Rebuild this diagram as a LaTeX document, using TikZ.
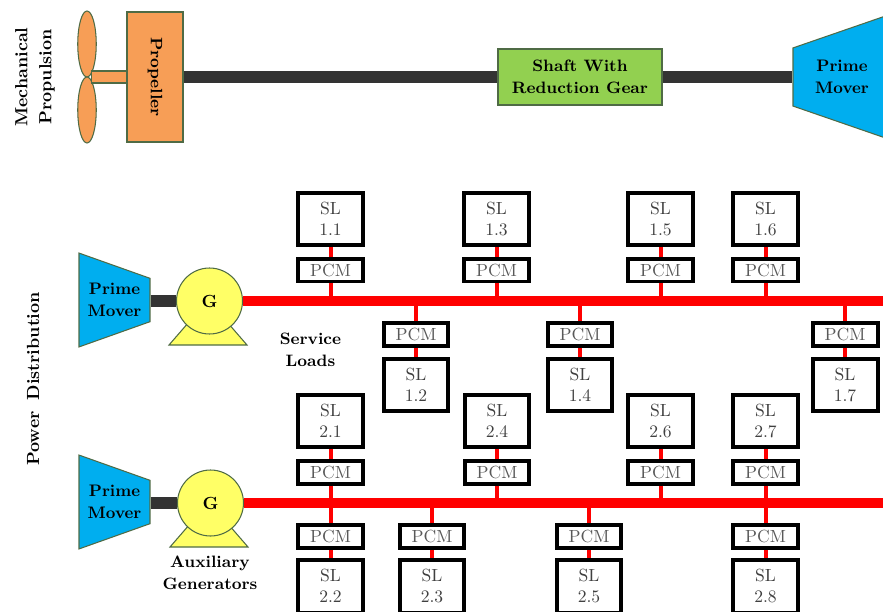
\documentclass[tikz,border=0pt]{standalone}
\usepackage{amsmath}
\usepackage{tikz}
\usetikzlibrary{shapes.geometric, positioning}
\definecolor{Borde}{RGB}{79, 107, 69}
\definecolor{Naranja}{RGB}{247, 158, 86}
\definecolor{Azul}{RGB}{0, 174, 239}
\definecolor{Verde}{RGB}{146, 208, 80}
\definecolor{Amarillo}{RGB}{255, 255, 102}
\definecolor{Eje}{RGB}{51, 51, 51}

\begin{document}
\begin{tikzpicture}[
        x=0.02cm, y=-0.02cm,
        sl/.style={rectangle, draw=black, fill=white, line width=0.08cm, minimum width=1.3cm, minimum height=1.06cm, inner sep=0pt, align=center, text=black!75},
        pcm/.style={rectangle, draw=black, fill=white, line width=0.08cm, minimum width=1.3cm, minimum height=0.46cm, inner sep=0pt, align=center, text=black!65},
        mover/.style={trapezium, draw=Borde, fill=Azul, line width=0.6pt, trapezium stretches=true, trapezium left angle=70, trapezium right angle=70, inner sep=0pt, align=center, font=\fontsize{9.5}{12.5}\selectfont\bfseries},
        gen/.style={circle, draw=Borde, fill=Amarillo, line width=0.6pt, minimum size=1.32cm, inner sep=0pt, font=\bfseries},
        base/.style={draw=Borde, fill=Amarillo, line width=0.6pt},
        prop/.style={draw=Borde, fill=Naranja, line width=0.6pt},
        label/.style={align=center, font=\fontsize{9.4}{12.5}\selectfont\bfseries},
        side/.style={align=center, font=\fontsize{10}{13.6}\selectfont\bfseries},
        shaft/.style={draw=Eje, line width=0.24cm},
        bus/.style={draw=red, line width=0.2cm},
        feed/.style={draw=red, line width=0.08cm}
    ]%
        \useasboundingbox (0,0) rectangle (883,612);
        \clip (0,0) rectangle (883,612);
        % ================= MECHANICAL PROPULSION =================
        \node[side, rotate=90] (mech) at (35, 77) {Mechanical\\Propulsion};
        \node[prop, ellipse, minimum width=0.37cm, minimum height=1.32cm, inner sep=0pt] (blade1) at (87, 44) {};
        \node[prop, ellipse, minimum width=0.37cm, minimum height=1.32cm, inner sep=0pt] (blade2) at (87, 110) {};
        \node[prop, rectangle, minimum width=0.7cm, minimum height=0.24cm, inner sep=0pt] (stem) at (109, 77) {};
        \node[prop, rectangle, minimum width=1.12cm, minimum height=2.6cm, inner sep=0pt, font=\fontsize{9.4}{12.5}\selectfont\bfseries] (propeller) at (155, 77) {\rotatebox{-90}{Propeller}};
        \node[prop, fill=Verde, rectangle, minimum width=3.28cm, minimum height=1.12cm, inner sep=0pt, align=center, font=\fontsize{9.4}{12.5}\selectfont\bfseries] (gear) at (580, 77) {Shaft With\\Reduction Gear};
        \node[mover, shape border rotate=90, minimum width=2.52cm, minimum height=1.96cm] (mover0) at (842, 77) {Prime\\Mover};
        \draw[shaft] (propeller.east) -- (gear.west);
        \draw[shaft] (gear.east) -- (mover0.top side);
        % ================= POWER DISTRIBUTION =================
        \node[side, rotate=90] (power) at (33, 379) {Power\hspace{0.25em} Distribution};
        \node[label] (service) at (310.5, 350) {Service\\Loads};
        \node[label] (aux) at (210, 572.5) {Auxiliary\\Generators};
        % grupo 1
        \node[mover, shape border rotate=270, minimum width=1.88cm, minimum height=1.42cm] (mover1) at (114.5, 300) {Prime\\Mover};
        \draw[base] (169,345) -- (208,300) -- (247,345) -- cycle;
        \node[gen] (gen1) at (209.5, 301) {G};
        \draw[shaft] (mover1.top side |- gen1) -- (gen1);
        \coordinate (end1) at (883, 301);
        \draw[bus] (gen1.east) -- (end1);
        % grupo 2
        \node[mover, shape border rotate=270, minimum width=1.88cm, minimum height=1.42cm] (mover2) at (114.5, 502) {Prime\\Mover};
        \draw[base] (170,547) -- (209,502) -- (248,547) -- cycle;
        \node[gen] (gen2) at (210.5, 503) {G};
        \draw[shaft] (mover2.top side |- gen2) -- (gen2);
        \coordinate (end2) at (883, 503);
        \draw[bus] (gen2.east) -- (end2);
        % ================= SERVICE LOADS, BUS 1 =================
        \node[sl] (sl11) at (330.5, 219) {SL\\1.1};
        \node[pcm] (pcm11) at (330.5, 270) {PCM};
        \node[sl] (sl13) at (496.5, 219) {SL\\1.3};
        \node[pcm] (pcm13) at (496.5, 270) {PCM};
        \node[sl] (sl15) at (660.5, 219) {SL\\1.5};
        \node[pcm] (pcm15) at (660.5, 270) {PCM};
        \node[sl] (sl16) at (765.5, 219) {SL\\1.6};
        \node[pcm] (pcm16) at (765.5, 270) {PCM};
        \node[pcm] (pcm12) at (416, 334) {PCM};
        \node[sl] (sl12) at (416, 385) {SL\\1.2};
        \node[pcm] (pcm14) at (580, 334) {PCM};
        \node[sl] (sl14) at (580, 385) {SL\\1.4};
        \node[pcm] (pcm17) at (845, 334) {PCM};
        \node[sl] (sl17) at (845, 385) {SL\\1.7};
        % ================= SERVICE LOADS, BUS 2 =================
        \node[sl] (sl21) at (330.5, 421) {SL\\2.1};
        \node[pcm] (pcm21) at (330.5, 472) {PCM};
        \node[sl] (sl24) at (497, 421) {SL\\2.4};
        \node[pcm] (pcm24) at (497, 472) {PCM};
        \node[sl] (sl26) at (660.5, 421) {SL\\2.6};
        \node[pcm] (pcm26) at (660.5, 472) {PCM};
        \node[sl] (sl27) at (765.5, 421) {SL\\2.7};
        \node[pcm] (pcm27) at (765.5, 472) {PCM};
        \node[pcm] (pcm22) at (330.5, 536.5) {PCM};
        \node[sl] (sl22) at (330.5, 586) {SL\\2.2};
        \node[pcm] (pcm23) at (432, 536.5) {PCM};
        \node[sl] (sl23) at (432, 586) {SL\\2.3};
        \node[pcm] (pcm25) at (589, 536.5) {PCM};
        \node[sl] (sl25) at (589, 586) {SL\\2.5};
        \node[pcm] (pcm28) at (765.5, 536.5) {PCM};
        \node[sl] (sl28) at (765.5, 586) {SL\\2.8};
        % ================= FEEDERS =================
        \draw[feed] (sl11) -- (pcm11);
        \draw[feed] (pcm11) -- (pcm11 |- end1);
        \draw[feed] (sl13) -- (pcm13);
        \draw[feed] (pcm13) -- (pcm13 |- end1);
        \draw[feed] (sl15) -- (pcm15);
        \draw[feed] (pcm15) -- (pcm15 |- end1);
        \draw[feed] (sl16) -- (pcm16);
        \draw[feed] (pcm16) -- (pcm16 |- end1);
        \draw[feed] (pcm12) -- (sl12);
        \draw[feed] (pcm12) -- (pcm12 |- end1);
        \draw[feed] (pcm14) -- (sl14);
        \draw[feed] (pcm14) -- (pcm14 |- end1);
        \draw[feed] (pcm17) -- (sl17);
        \draw[feed] (pcm17) -- (pcm17 |- end1);
        \draw[feed] (sl21) -- (pcm21);
        \draw[feed] (pcm21) -- (pcm21 |- end2);
        \draw[feed] (sl24) -- (pcm24);
        \draw[feed] (pcm24) -- (pcm24 |- end2);
        \draw[feed] (sl26) -- (pcm26);
        \draw[feed] (pcm26) -- (pcm26 |- end2);
        \draw[feed] (sl27) -- (pcm27);
        \draw[feed] (pcm27) -- (pcm27 |- end2);
        \draw[feed] (pcm22) -- (sl22);
        \draw[feed] (pcm22) -- (pcm22 |- end2);
        \draw[feed] (pcm23) -- (sl23);
        \draw[feed] (pcm23) -- (pcm23 |- end2);
        \draw[feed] (pcm25) -- (sl25);
        \draw[feed] (pcm25) -- (pcm25 |- end2);
        \draw[feed] (pcm28) -- (sl28);
        \draw[feed] (pcm28) -- (pcm28 |- end2);
    \end{tikzpicture}
\end{document}
